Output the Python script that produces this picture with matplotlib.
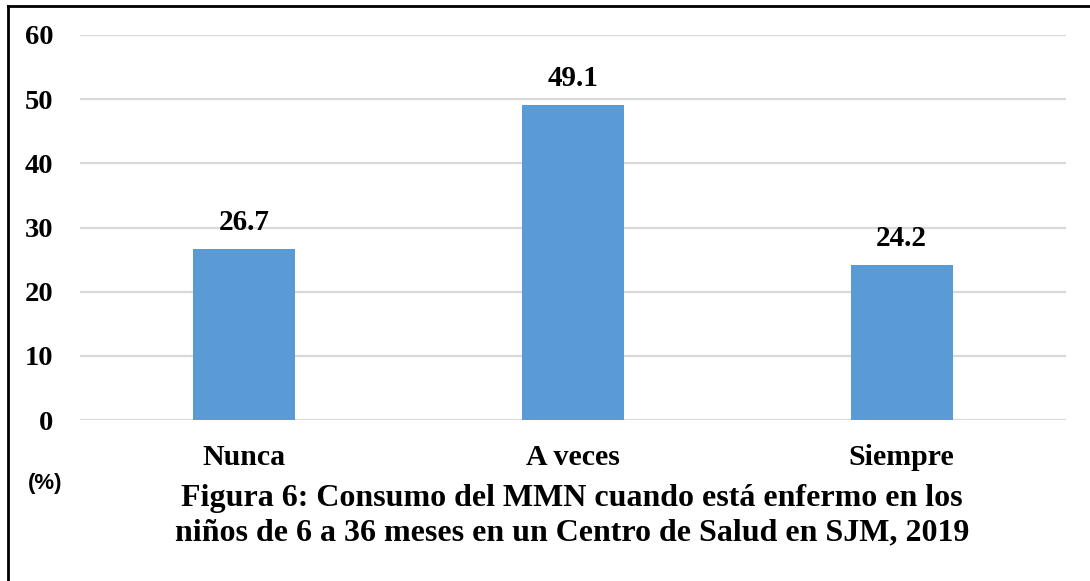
import matplotlib.pyplot as plt
from matplotlib.lines import Line2D

categorias = ['Nunca', 'A veces', 'Siempre']
porcentajes = [26.7, 49.1, 24.2]
yticks = [0, 10, 20, 30, 40, 50, 60]

serif = ['Liberation Serif', 'DejaVu Serif']

fig = plt.figure(figsize=(10.9, 5.81), dpi=100)
ax = fig.add_axes([80/1090, 1 - 420/581, (1066 - 80)/1090, (420 - 35)/581])

x = range(len(categorias))
ax.bar(x, porcentajes, width=0.31, color='#5B9BD5', zorder=3)
for xi, v in zip(x, porcentajes):
    ax.annotate(f'{v:.1f}', (xi, v), xytext=(0, 9), textcoords='offset points',
                ha='center', va='bottom', fontsize=21, fontweight='bold', family=serif)

ax.set_xlim(-0.5, 2.5)
ax.set_ylim(0, 60)
ax.set_yticks(yticks)
ax.set_xticks(list(x))
ax.set_xticklabels(categorias)
ax.grid(axis='y', color='#d9d9d9', linewidth=1.6, zorder=0)
for s in ax.spines.values():
    s.set_visible(False)
ax.tick_params(length=0)
ax.tick_params(axis='x', pad=17)
ax.tick_params(axis='y', pad=19)
for lab in ax.get_xticklabels():
    lab.set_fontfamily(serif)
    lab.set_fontweight('bold')
    lab.set_fontsize(21.5)
for lab in ax.get_yticklabels():
    lab.set_fontfamily(serif)
    lab.set_fontweight('bold')
    lab.set_fontsize(20.5)

fig.text(45/1090, 1 - 483/581, '(%)', ha='center', va='center', fontsize=16,
         fontweight='bold', family=['Liberation Sans', 'DejaVu Sans'])
fig.text(572/1090, 1 - 516/581,
         'Figura 6: Consumo del MMN cuando está enfermo en los\n'
         'niños de 6 a 36 meses en un Centro de Salud en SJM, 2019',
         ha='center', va='center', fontsize=23, fontweight='bold', family=serif,
         linespacing=1.26)

# marco izquierdo y superior
fig.add_artist(Line2D([8/1090, 8/1090], [0, 1 - 6/581], color='black', linewidth=2))
fig.add_artist(Line2D([8/1090, 1], [1 - 6/581, 1 - 6/581], color='black', linewidth=2))

fig.savefig('out.png', dpi=100)
